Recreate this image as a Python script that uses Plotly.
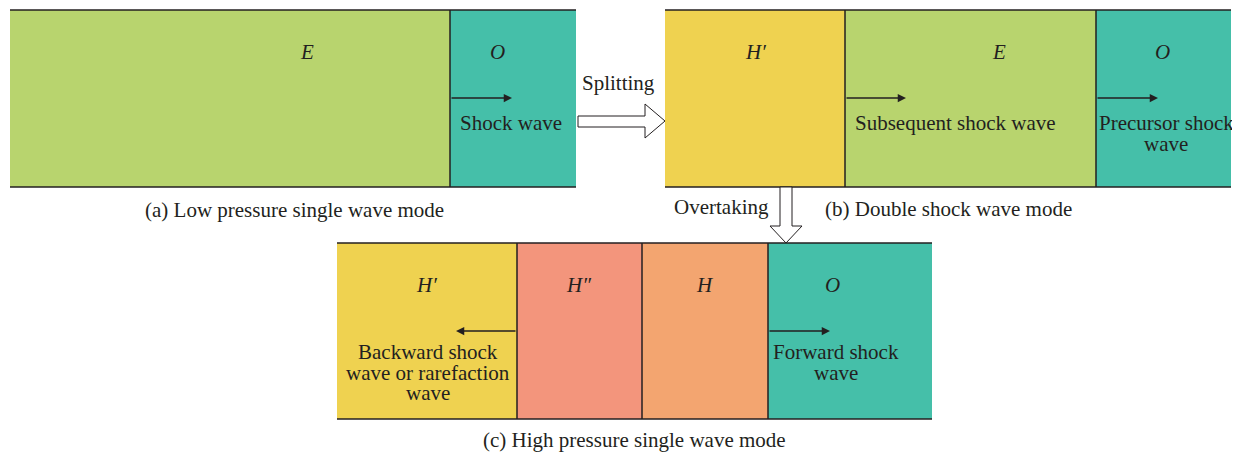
import plotly.graph_objects as go

W, H = 1240, 453
PAD = 8  # default page body margin

# panel layouts: region edges along x, fills, region labels
a_edges = [10, 450, 576]
a_colors = ["#b8d46e", "#45bfa9"]
a_labels = ["E", "O"]
a_label_x = [307, 497]

b_edges = [665, 845, 1096, 1231]
b_colors = ["#efd250", "#b8d46e", "#45bfa9"]
b_labels = ["H′", "E", "O"]
b_label_x = [755, 999, 1162]

c_edges = [337, 517, 642, 768, 932]
c_colors = ["#efd250", "#f3957c", "#f3a570", "#45bfa9"]
c_labels = ["H′", "H″", "H", "O"]
c_label_x = [426, 578, 705, 832]

captions = ["(a) Low pressure single wave mode",
            "(b) Double shock wave mode",
            "(c) High pressure single wave mode"]

FONT = "Liberation Serif, Times New Roman, serif"
INK = "#231f20"

fig = go.Figure()
shapes = []
annotations = []


def panel(edges, colors, labels, label_x, top, bottom):
    for i, col in enumerate(colors):
        shapes.append(dict(type="rect", x0=edges[i], x1=edges[i + 1], y0=top, y1=bottom,
                           fillcolor=col, line=dict(width=0), layer="below"))
    for xe in edges[1:-1]:
        shapes.append(dict(type="line", x0=xe, x1=xe, y0=top, y1=bottom,
                           line=dict(color=INK, width=1.5)))
    for yy in (top, bottom):
        shapes.append(dict(type="line", x0=edges[0], x1=edges[-1], y0=yy, y1=yy,
                           line=dict(color=INK, width=1.5)))
    for lab, lx in zip(labels, label_x):
        annotations.append(dict(x=lx, y=top + 42, text="<i>%s</i>" % lab, showarrow=False,
                                font=dict(family=FONT, size=21, color=INK)))


def text(x, y, lines, size=21, step=20.5):
    if isinstance(lines, str):
        lines = [lines]
    for k, s in enumerate(lines):
        annotations.append(dict(x=x, y=y + k * step, text=s, showarrow=False,
                                font=dict(family=FONT, size=size, color=INK)))


def wave_arrow(x0, x1, y):
    annotations.append(dict(x=x1, y=y, ax=x0, ay=y, axref="x", ayref="y", text="",
                            showarrow=True, arrowhead=2, arrowsize=1.1, arrowwidth=1.5,
                            arrowcolor=INK))


panel(a_edges, a_colors, a_labels, a_label_x, 10, 187)
panel(b_edges, b_colors, b_labels, b_label_x, 10, 187)
panel(c_edges, c_colors, c_labels, c_label_x, 243, 419)

# wave fronts
wave_arrow(450, 512, 98)
wave_arrow(845, 906, 98)
wave_arrow(1096, 1158, 98)
wave_arrow(517, 456, 331)
wave_arrow(768, 830, 331)

text(511, 123, "Shock wave")
text(955, 123, "Subsequent shock wave")
text(1166, 123, ["Precursor shock", "wave"])
text(428, 352, ["Backward shock", "wave or rarefaction", "wave"])
text(836, 352, ["Forward shock", "wave"])

text(294, 210, captions[0])
text(948, 209, captions[1])
text(634, 440, captions[2])

# hollow transition arrows
shapes.append(dict(type="path",
                   path="M578,116 L645,116 L645,104 L665,121 L645,138 L645,127 L578,127 Z",
                   fillcolor="white", line=dict(color=INK, width=1)))
shapes.append(dict(type="path",
                   path="M780,187 L780,226 L770,226 L786,243 L802,226 L792,226 L792,187 Z",
                   fillcolor="white", line=dict(color=INK, width=1)))
text(618, 83, "Splitting")
text(721, 207, "Overtaking")

fig.update_layout(
    width=W - PAD, height=H - PAD,
    margin=dict(l=0, r=0, t=0, b=0),
    paper_bgcolor="white", plot_bgcolor="white",
    xaxis=dict(range=[PAD, W], visible=False, fixedrange=True),
    yaxis=dict(range=[H, PAD], visible=False, fixedrange=True),
    shapes=shapes, annotations=annotations, showlegend=False,
)

fig.write_html("out.html")
